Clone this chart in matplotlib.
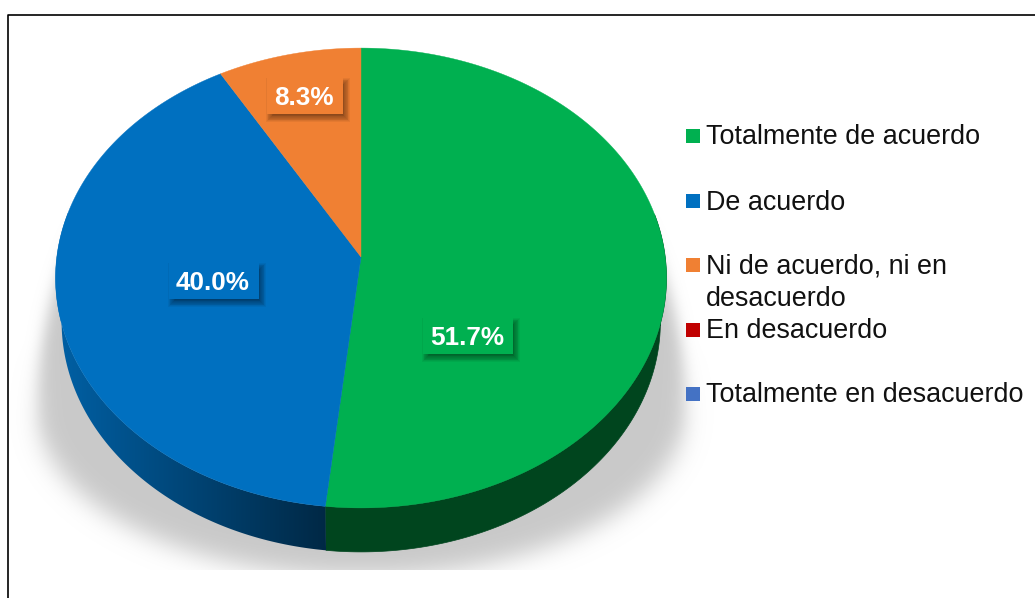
import numpy as np
import matplotlib
matplotlib.use("Agg")
import matplotlib.pyplot as plt
from matplotlib.patches import Polygon, Rectangle

plt.rcParams['font.family'] = ['Liberation Sans', 'DejaVu Sans']

categories = ['Totalmente de acuerdo', 'De acuerdo', 'Ni de acuerdo, ni en\ndesacuerdo',
              'En desacuerdo', 'Totalmente en desacuerdo']
values = [51.7, 40.0, 8.3, 0.0, 0.0]
colors = ['#00B050', '#0070C0', '#F08033', '#C00000', '#4472C4']
value_labels = ['51.7%', '40.0%', '8.3%']
label_pos = [(468, 336), (214, 281), (305, 96)]
legend_y = [136, 201, 265, 330, 394]

W, H = 1035, 598
CX, CY = 361, 257
DEPTH = 44


def project(theta):
    """Tilted disc -> pixels. theta is clockwise from 12 o'clock."""
    u, v = np.sin(theta), np.cos(theta)
    w = 1 + 0.0913 * v
    return CX + 304.2 * u / w, CY - 228 * v / w


def blur(a, sigma):
    n = int(3 * sigma)
    kernel = np.exp(-(np.arange(-n, n + 1) / sigma) ** 2 / 2)
    kernel /= kernel.sum()
    a = np.apply_along_axis(lambda c: np.convolve(c, kernel, mode='same'), 0, a)
    return np.apply_along_axis(lambda c: np.convolve(c, kernel, mode='same'), 1, a)


fig = plt.figure(figsize=(W / 100, H / 100), dpi=100)
ax = fig.add_axes([0, 0, 1, 1])
ax.set_xlim(0, W)
ax.set_ylim(H, 0)
ax.axis('off')

# soft shadow under the pie, tall on top, flatter below, cut off at the bottom
yy, xx = np.mgrid[0:H, 0:W]
ry = np.where(yy < 410, 380.0, 166.0)
mask = (((xx - 361) / 324.0) ** 2 + ((yy - 410) / ry) ** 2 < 1).astype(float)
soft = blur(mask, 12)
sharp = blur(mask, 7)
mix = np.clip((yy - 340) / 120.0, 0, 1)
mask = sharp * (1 - mix) + soft * mix
mask[570:] = 0
mask[:200] = 0
rgba = np.ones((H, W, 4)) * 0.79
rgba[..., 3] = mask
ax.imshow(rgba, extent=(0, W, H, 0), aspect='auto', zorder=1, interpolation='bilinear')

# wedge angles from the values
edges = np.cumsum([0] + values) / sum(values) * 2 * np.pi

# side wall: the bottom rim is a bit narrower, so the wall tapers out at the sides
for i, val in enumerate(values):
    if val == 0:
        continue
    th = np.linspace(edges[i], edges[i + 1], 300)
    th = th[np.cos(th) < 0.2]
    if len(th) == 0:
        continue
    px, py = project(th)
    wall = np.r_[np.column_stack([px, py]),
                 np.column_stack([CX + (px - CX) * 0.98, py + DEPTH])[::-1]]
    if i == 0:
        ax.add_patch(Polygon(wall, closed=True, fc='#00451E', ec='#00451E', lw=0.5, zorder=2))
    else:
        # horizontal gradient, darkest next to the green slice
        patch = Polygon(wall, closed=True, fc='none', ec='none', zorder=2)
        ax.add_patch(patch)
        x_px = np.arange(W) + 0.5
        t = np.clip(0.36 + 0.50 * np.abs(x_px - 326) / 270, 0, 1)
        grad = np.outer(t, matplotlib.colors.to_rgb(colors[i]))[None, :, :]
        im = ax.imshow(grad, extent=(0, W, H, 0), aspect='auto', zorder=2, interpolation='bilinear')
        im.set_clip_path(patch)

# top of the pie
for i, val in enumerate(values):
    if val == 0:
        continue
    th = np.linspace(edges[i], edges[i + 1], 300)
    px, py = project(th)
    ax.add_patch(Polygon(np.column_stack([np.r_[CX, px], np.r_[CY, py]]), closed=True,
                         fc=colors[i], ec=colors[i], lw=0.3, zorder=3))

# value labels on boxes of the slice colour, with a blurred drop shadow
box_w = [90, 90, 76]
for lab, (x, y), col, bw in zip(value_labels, label_pos, colors, box_w):
    bh = 36
    for k in range(10):
        grow = 4 - k * 0.8
        ax.add_patch(Rectangle((x - bw / 2 + 3 - grow, y - bh / 2 + 4 - grow), bw + 2 * grow, bh + 2 * grow,
                               fc='black', ec='none', alpha=0.05, zorder=4))
    ax.add_patch(Rectangle((x - bw / 2, y - bh / 2), bw, bh, fc=col, ec='none', zorder=5))
    ax.text(x - 1, y + 2, lab, color='white', fontsize=18.8, fontweight='bold',
            ha='center', va='center', zorder=6)

# legend
for name, col, y in zip(categories, colors, legend_y):
    ax.add_patch(Rectangle((686, y - 7), 14, 14, fc=col, ec='none', zorder=3))
    ax.text(705.5, y - 11.5, name, color='#111111', fontsize=19.4, ha='left', va='top',
            linespacing=1.3, zorder=3)

# frame
ax.plot([7.5, 7.5, W], [H, 14.5, 14.5], color='black', lw=1.2, zorder=7, solid_capstyle='butt')

fig.savefig('out.png', dpi=100)
